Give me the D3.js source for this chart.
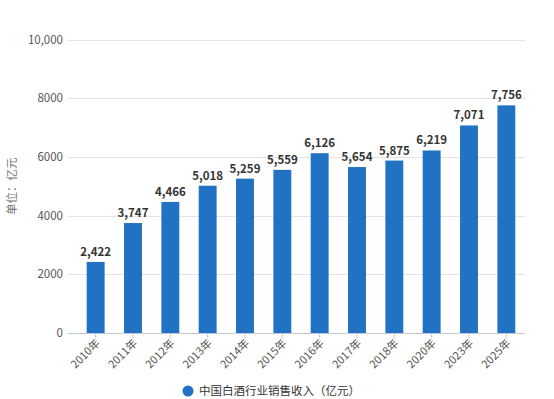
<!DOCTYPE html>
<html>
<head>
<meta charset="utf-8">
<script src="https://cdn.jsdelivr.net/npm/d3@7/dist/d3.min.js"></script>
<style>
  body { margin: 0; background: #fff; }
  svg { display: block; font-family: "Noto Sans CJK SC", "Noto Sans", sans-serif; }
</style>
</head>
<body>
<script>
// data
var years = ["2010年", "2011年", "2012年", "2013年", "2014年", "2015年",
             "2016年", "2017年", "2018年", "2020年", "2023年", "2025年"];
var sales = [2422, 3747, 4466, 5018, 5259, 5559, 6126, 5654, 5875, 6219, 7071, 7756];
var yTicks = [0, 2000, 4000, 6000, 8000, 10000];
var yTickLabels = ["0", "2000", "4000", "6000", "8000", "10,000"];
var seriesName = "中国白酒行业销售收入（亿元）";
var yTitle = "单位：亿元";

var width = 554,
    height = 399;

var svg = d3.select("body").append("svg")
    .attr("width", width)
    .attr("height", height);

var x = d3.scaleBand()
    .domain(years)
    .range([77, 525])
    .paddingInner(0.52)
    .paddingOuter(0.26);

var y = d3.scaleLinear()
    .domain([0, 10000])
    .range([333, 39.5]);

// grid
svg.append("g").selectAll("line")
    .data(yTicks.slice(1))
    .enter().append("line")
    .attr("x1", 68).attr("x2", 525)
    .attr("y1", function (d) { return Math.round(y(d)) + 0.5; })
    .attr("y2", function (d) { return Math.round(y(d)) + 0.5; })
    .attr("stroke", "#e3e3e3")
    .attr("stroke-width", 1);

// y labels
svg.append("g").selectAll("text")
    .data(yTicks)
    .enter().append("text")
    .attr("x", 63)
    .attr("y", function (d) { return y(d) + 4; })
    .attr("text-anchor", "end")
    .attr("font-size", 11.5)
    .attr("fill", "#555")
    .text(function (d, i) { return yTickLabels[i]; });

svg.append("text")
    .attr("transform", "translate(16," + y(5000) + ")rotate(-90)")
    .attr("text-anchor", "middle")
    .attr("font-size", 11.5)
    .attr("fill", "#777")
    .text(yTitle);

// bars
svg.append("g").selectAll("rect")
    .data(sales)
    .enter().append("rect")
    .attr("x", function (d, i) { return x(years[i]); })
    .attr("width", x.bandwidth())
    .attr("y", function (d) { return y(d); })
    .attr("height", function (d) { return y(0) - y(d); })
    .attr("fill", "#2272c3");

// value labels
svg.append("g").selectAll("text")
    .data(sales)
    .enter().append("text")
    .attr("x", function (d, i) { return x(years[i]) + x.bandwidth() / 2; })
    .attr("y", function (d) { return y(d) - 6; })
    .attr("text-anchor", "middle")
    .attr("font-size", 11.5)
    .attr("font-weight", "bold")
    .attr("fill", "#333")
    .text(function (d) { return d3.format(",")(d); });

// x axis line + ticks
svg.append("line")
    .attr("x1", 68).attr("x2", 525)
    .attr("y1", 333.5).attr("y2", 333.5)
    .attr("stroke", "#c0c8d8");

var xg = svg.append("g").selectAll("g")
    .data(years)
    .enter().append("g")
    .attr("transform", function (d) {
        return "translate(" + (x(d) + x.bandwidth() / 2) + ",333)";
    });

xg.append("line")
    .attr("y1", 0).attr("y2", 5)
    .attr("stroke", "#c0c8d8");

xg.append("text")
    .attr("transform", "translate(5,11)rotate(-45)")
    .attr("text-anchor", "end")
    .attr("font-size", 11)
    .attr("fill", "#555")
    .text(function (d) { return d; });

// legend
svg.append("circle")
    .attr("cx", 188).attr("cy", 391)
    .attr("r", 5.5)
    .attr("fill", "#2272c3");

svg.append("text")
    .attr("x", 199).attr("y", 395)
    .attr("font-size", 11.5)
    .attr("fill", "#333")
    .text(seriesName);
</script>
</body>
</html>
